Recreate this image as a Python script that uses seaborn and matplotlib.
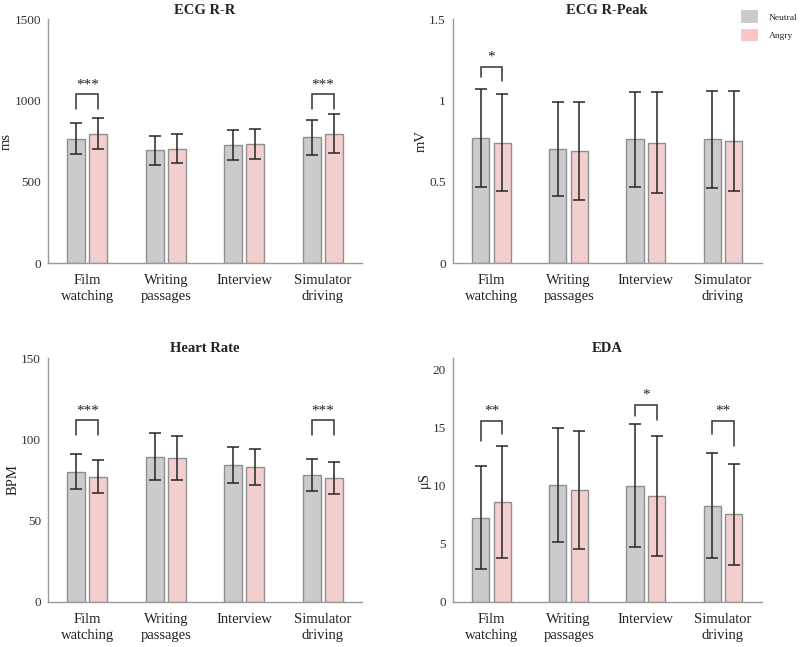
import numpy as np
import pandas as pd
import matplotlib
matplotlib.use("Agg")
import matplotlib.pyplot as plt
import seaborn as sns
from matplotlib.patches import Patch

sns.set_style("white")
plt.rcParams['font.family'] = ['Liberation Serif', 'DejaVu Serif']
plt.rcParams['mathtext.fontset'] = 'stix'

tasks = ["Film\nwatching", "Writing\npassages", "Interview", "Simulator\ndriving"]
conditions = ["Neutral", "Angry"]

# ECG R-R (ms)
rr_neutral = [765, 694, 724, 772]
rr_angry = [795, 702, 733, 796]
rr_neutral_sd = [96, 89, 91, 110]
rr_angry_sd = [96, 89, 91, 118]

# ECG R-Peak (mV)
rp_neutral = [0.77, 0.70, 0.76, 0.76]
rp_angry = [0.74, 0.69, 0.74, 0.75]
rp_neutral_sd = [0.30, 0.29, 0.29, 0.30]
rp_angry_sd = [0.30, 0.30, 0.31, 0.31]

# Heart Rate (BPM)
hr_neutral = [80.2, 89.4, 84.2, 78.2]
hr_angry = [77.0, 88.3, 83.2, 76.3]
hr_neutral_sd = [10.6, 14.4, 11.2, 9.8]
hr_angry_sd = [10.0, 13.6, 11.1, 10.0]

# EDA (uS)
eda_neutral = [7.27, 10.10, 10.00, 8.30]
eda_angry = [8.60, 9.65, 9.15, 7.55]
eda_neutral_sd = [4.40, 4.90, 5.28, 4.55]
eda_angry_sd = [4.80, 5.10, 5.15, 4.36]

# significance annotations: (task index, bracket top, left leg end, right leg end, label)
rr_sig = [(0, 1038, 950, 950, "***"), (3, 1038, 950, 950, "***")]
rp_sig = [(0, 1.207, 1.141, 1.12, "*")]
hr_sig = [(0, 111.6, 102.7, 102.7, "***"), (3, 111.6, 102.7, 102.7, "***")]
eda_sig = [(0, 15.62, 13.82, 14.42, "**"), (2, 17.0, 16.05, 15.7, "*"),
           (3, 15.62, 14.42, 13.4, "**")]

panels = [
    ("ECG R-R", "ms", rr_neutral, rr_angry, rr_neutral_sd, rr_angry_sd, rr_sig,
     (0, 1500), [0, 500, 1000, 1500], ["0", "500", "1000", "1500"]),
    ("ECG R-Peak", "mV", rp_neutral, rp_angry, rp_neutral_sd, rp_angry_sd, rp_sig,
     (0, 1.5), [0, 0.5, 1, 1.5], ["0", "0.5", "1", "1.5"]),
    ("Heart Rate", "BPM", hr_neutral, hr_angry, hr_neutral_sd, hr_angry_sd, hr_sig,
     (0, 150), [0, 50, 100, 150], ["0", "50", "100", "150"]),
    ("EDA", "μS", eda_neutral, eda_angry, eda_neutral_sd, eda_angry_sd, eda_sig,
     (0, 21), [0, 5, 10, 15, 20], ["0", "5", "10", "15", "20"]),
]

colors = {"Neutral": "#cbcbcd", "Angry": "#f8c8c9"}
edge = "#8f8f8f"
err_color = "#262626"

fig = plt.figure(figsize=(8.0, 6.47), dpi=100)
positions = [
    [0.060, 0.5935, 0.3925, 0.377],
    [0.566, 0.5935, 0.386, 0.377],
    [0.060, 0.0696, 0.3925, 0.377],
    [0.566, 0.0696, 0.386, 0.377],
]

for pos, (title, ylabel, neu, ang, neu_sd, ang_sd, sigs, ylim, yticks, yticklabels) in zip(positions, panels):
    ax = fig.add_axes(pos)
    df = pd.DataFrame({
        "task": tasks * 2,
        "condition": ["Neutral"] * 4 + ["Angry"] * 4,
        "value": list(neu) + list(ang),
    })
    sns.barplot(data=df, x="task", y="value", hue="condition", order=tasks,
                hue_order=conditions, palette=colors, errorbar=None,
                width=0.56, gap=0.2, edgecolor=edge, linewidth=1.0,
                legend=False, ax=ax)
    centers = {}
    for cond, cont, sds, vals in zip(conditions, ax.containers, [neu_sd, ang_sd], [neu, ang]):
        xs = [p.get_x() + p.get_width() / 2 for p in cont.patches]
        centers[cond] = xs
        ax.errorbar(xs, vals, yerr=sds, fmt="none", ecolor=err_color,
                    elinewidth=1.1, capsize=4.5, capthick=1.1, zorder=5)
    for (gi, top, lleg, rleg, label) in sigs:
        x1 = centers["Neutral"][gi]
        x2 = centers["Angry"][gi]
        ax.plot([x1, x1, x2, x2], [lleg, top, top, rleg], color="#333333", lw=1.1,
                solid_joinstyle="miter", zorder=6)
        ax.text((x1 + x2) / 2, top + (ylim[1] - ylim[0]) * 0.012, label,
                ha="center", va="bottom", fontsize=11, color="#222222")
    ax.set_xlim(-0.5, 3.5)
    ax.set_ylim(*ylim)
    ax.set_yticks(yticks)
    ax.set_yticklabels(yticklabels)
    ax.set_xlabel("")
    ax.set_ylabel(ylabel, fontsize=10.5, color="#222222", labelpad=1)
    ax.set_title(title, fontsize=10.5, fontweight="bold", color="#222222", pad=4)
    ax.tick_params(axis="y", length=0, pad=5, labelsize=9.5, labelcolor="#333333")
    ax.tick_params(axis="x", length=0, pad=8, labelsize=10.5, labelcolor="#222222")
    for lab in ax.get_xticklabels():
        lab.set_linespacing(1.3)
    for s in ["top", "right"]:
        ax.spines[s].set_visible(False)
    for s in ["left", "bottom"]:
        ax.spines[s].set_color("#9a9a9a")
        ax.spines[s].set_linewidth(1.0)

handles = [Patch(facecolor=colors[c], edgecolor="none", label=c) for c in conditions]
fig.legend(handles=handles, loc="upper right", bbox_to_anchor=(1.006, 0.996),
           frameon=False, fontsize=6.8, handlelength=1.85, handleheight=1.7,
           labelspacing=0.6, handletextpad=1.1, borderpad=0.3)

fig.savefig("out.png", dpi=100)
